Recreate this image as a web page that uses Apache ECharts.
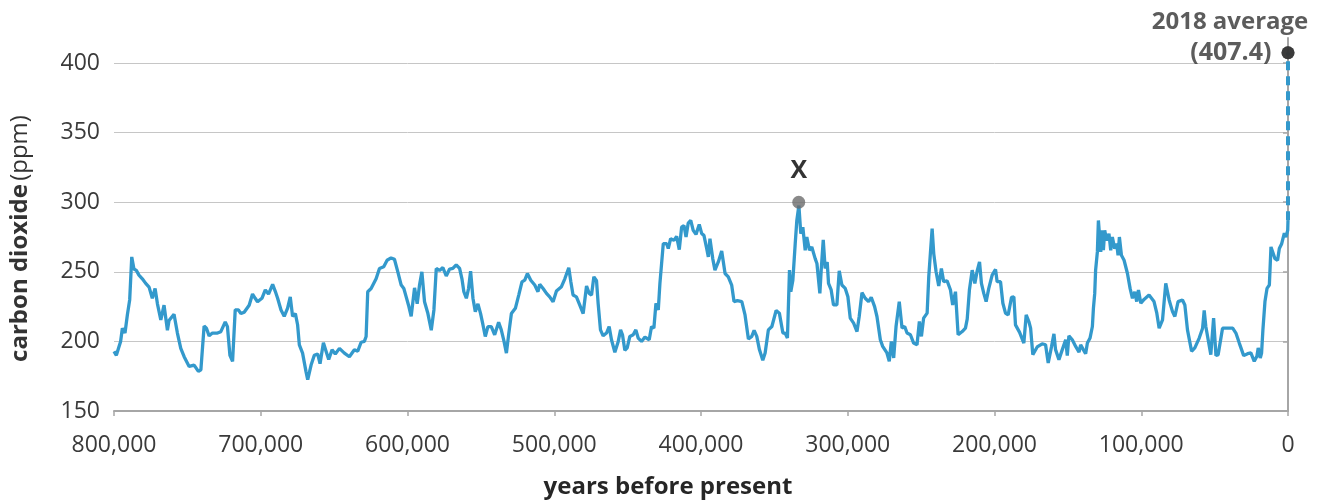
<!DOCTYPE html>
<html><head><meta charset="utf-8">
<script src="https://cdn.jsdelivr.net/npm/echarts@6/dist/echarts.min.js"></script>
<style>html,body{margin:0;padding:0;background:#fff;overflow:hidden}#c{width:1322px;height:504px}</style>
</head><body><div id="c"></div>
<script>
// years before present (ice-core record)
const years = [
800000,798400,795500,794300,792500,790900,789300,787900,786400,784800,783000,780700,778400,776100,773900,772000,770400,768100,765900,763600,762500,759100,756800,754500,752200,748800,745400,742500,740800,738600,737000,735200,732900,729500,727200,724200,722700,721000,719200,717400,715200,713500,711300,707900,705600,703800,702200,699200,696900,694700,691900,690100,688500,686200,684000,681700,679900,678300,676400,674900,673700,671500,669200,668000,665700,663500,661200,659600,657300,655500,653700,651400,649200,646400,643000,639600,
636200,633900,631600,629400,628200,627100,624800,621400,619100,616200,613900,611200,608900,606600,604300,602500,600900,599300,597500,595200,593400,591800,590200,588400,586100,583800,582000,580400,578200,575900,573600,571300,569100,566800,564500,562900,561600,559900,558400,557000,555400,553800,552000,550200,548600,547000,545200,542900,540600,537900,536100,534300,532600,531100,529200,526500,524200,522000,520100,518300,516000,513300,511100,509900,507600,505300,503100,500800,498500,495100,492800,490100,488700,487200,484900,482600,480300,
479900,478000,476200,474600,473000,471200,470100,468500,466700,464400,462600,461000,458700,456400,454800,453500,451900,450300,448500,446200,444400,442800,440500,438200,435300,433700,432100,430700,429100,428000,425700,423400,422300,420700,418400,416600,414800,413200,411600,410200,408700,407000,405300,403400,401200,399500,398000,396100,395000,393900,392000,390500,388200,385900,383600,381400,379100,377500,375200,372200,370000,367700,365400,363800,362000,360200,357900,356300,354100,351700,348800,346600,344200,342700,341100,339700,338800,337400,335800,334700,333300,332000,330600,329000,327900,326100,324500,322200,
321000,319900,319000,318100,316700,315400,314000,313100,311300,309700,307400,305800,304000,301700,299900,298300,296000,293700,292200,290300,288100,285800,284000,281700,280100,277800,276200,274900,273300,271700,270300,268700,267100,264900,263000,261200,259600,257300,255100,252800,251200,249800,248300,245900,244800,243700,242500,241400,239800,238000,236200,234600,232300,230000,228500,226600,224800,222000,219800,218600,217100,215200,213400,211800,210200,208900,207300,205700,203900,201600,199300,198200,195900,194300,192500,190700,188400,186800,185700,182900,180000,178400,176600,175400,173900,170900,167500,165200,163400,161100,159500,
158400,156100,153800,151500,150400,149300,147000,144700,142400,141300,139500,137900,136700,134900,133300,132600,131700,131100,129900,129200,128100,127600,126500,125800,124900,123600,122000,120800,119700,118100,116700,115800,114900,113500,111700,109400,107600,106000,104400,103100,101900,100300,98100,94700,91300,89400,87800,85500,83300,81000,78700,77100,74900,71900,70300,68500,65700,63500,60500,58200,57100,56000,54400,52600,50700,49100,47600,44600,41200,37700,35500,33200,30200,27500,25300,23000,21200,20300,18900,18000,17100,15700,14300,12700,11600,10500,8900,7100,5900,4300,2500,1400,200,0
];
// carbon dioxide (ppm)
const co2 = [
192.8,190,200,209.5,206,219,230,260.7,252,251,247.6,245,241.7,239,231,238,227,215.4,226,208,215,219.5,206,195,189,182,183,178.5,179.6,211,209.5,204,206,206,207,214,210.6,190,185.6,222.6,222.6,220,221,226,234,231,228.5,231,237,234,241,236,231,222.6,218,224,232,218,220,212,197.5,191.6,178.5,172.5,183,190,191,184,199,193,187,194,191,195,191.6,189,
194,193,199.4,200,203.5,235.7,238,245,252.4,253.6,258.3,260,259,250,240.5,238,232,226,218,238.5,227,240.5,250,228.5,220,208,222.6,252.4,251,253,247,252,252.4,255,252.4,245,235.7,231,238,250.5,231,221.4,227,220,212,203.5,210.6,210.6,204.7,213.7,208.3,200.4,191.6,204.7,220,223.8,233.3,242.8,244,248.8,244,240.5,235.7,241,238,234.5,232,228.5,236.2,239.3,245,252.9,242.8,233.3,232,226,220,
220.3,239.8,234.5,233.3,246.4,243.6,227.4,208.3,204,206,210.7,201.2,192.2,200,208.3,204.8,193.6,195.3,203.6,204.8,208.3,202.4,200,203.1,201.2,210.7,209.5,227.4,222.6,241.7,270.2,270.2,266.7,273.8,272.6,275.5,266,282.1,283.3,275,285,286.9,279.8,276.9,284,277.4,276.2,266.7,260.7,273.8,259.5,251.2,257.1,265,248.8,246.4,240.5,228.6,229.3,228.6,219,201.7,203.6,207.9,203.6,194.1,186.5,191.7,208.3,210.7,222.2,220.3,206,206,202.4,251.2,235.7,244,270.2,286.9,297.6,277.4,282,265.5,275,265.5,267.8,259.5,
256,257,234.5,251,273,252.4,257,241.7,237,226.2,226.2,250.7,240.5,238.1,232.1,216.7,213.1,207.1,217.9,235,231,228.6,231.7,225,217.9,201.2,196.4,197.6,191.7,185.7,200,188.1,210.7,228.6,209.5,210.7,206,204.8,198.8,197.6,214.3,203.6,216.7,220.3,246.4,263.1,281,263.1,250,239.8,252.4,242.9,243.6,236.9,226.2,235.7,204.8,207.1,209.5,216,236.9,251.2,241.7,250.7,257.1,241.7,234.5,228.6,238.1,247.6,251.7,242.9,242.9,227.4,220.3,219,231.7,232.1,211.9,206.5,198.8,219,214.3,209.5,190.5,196,198.3,197.6,184.5,196.4,205.4,
194.1,186.9,194.1,201.2,189.8,204,201.2,196.4,192.2,197.6,194.1,191.2,198.8,202.4,210.7,223.8,234.5,251.2,264.3,286.9,288.1,264.3,279.8,265.5,279.8,272.6,277.4,265.5,275,266.7,270.2,261.9,275,261.9,258.3,248.8,238.1,231,235.7,228.6,236.9,227.4,230.2,233.3,228.6,220.3,209.5,215.5,241.7,229.8,221.4,217.9,228.6,229.8,226.2,208.3,192.9,195.3,202.4,209.5,222.2,210.7,201.2,190.5,216.7,189.8,190.5,209.5,209.5,209.5,206,198.8,189.8,191.2,191.7,185.7,189.3,195.3,188.1,191.7,208.3,228.6,238.1,240.5,267.9,266.7,259.5,258.3,266.7,270.2,277.8,275,279.8,287
];
const yTicks = [150, 200, 250, 300, 350, 400];
const xTickStep = 100000;
const markerPoint = [333400, 300];   // point "X"
const avg2018 = [0, 407.4];          // 2018 average
const avgLabel = '(407.4)';
const avgTitle = '2018 average';

const lineData = years.map((y, i) => [y, co2[i]]);
const lastPoint = [years[years.length - 1], co2[co2.length - 1]];

const FONT = 'Open Sans';
const BLUE = '#3399cc';
const chart = echarts.init(document.getElementById('c'));
chart.setOption({
  animation: false,
  grid: { left: 114, right: 34, top: 38, bottom: 91, containLabel: false },
  xAxis: {
    type: 'value', min: 0, max: 800000, interval: xTickStep, inverse: true,
    axisLine: { show: true, lineStyle: { color: '#a6a6a6', width: 2 } },
    axisTick: { show: true, length: 5, lineStyle: { color: '#a6a6a6', width: 1.5 } },
    splitLine: { show: false },
    axisLabel: { color: '#3a3a3a', fontSize: 23, fontFamily: FONT, margin: 23,
      formatter: v => v.toLocaleString('en-US') },
    name: 'years before present', nameLocation: 'middle', nameGap: 64,
    nameTextStyle: { fontWeight: 'bold', fontSize: 24, color: '#262626', fontFamily: FONT, padding: [0, 66, 0, 0] }
  },
  yAxis: {
    type: 'value', min: 150, max: 418,
    axisLine: { show: true, lineStyle: { color: '#a6a6a6', width: 2 } },
    axisTick: { show: true, length: 5, customValues: yTicks, lineStyle: { color: '#a6a6a6', width: 1.5 } },
    axisLabel: { customValues: yTicks, color: '#3a3a3a', fontSize: 23, fontFamily: FONT, margin: 14 },
    splitLine: { show: true, lineStyle: { color: '#c6c6c6', width: 1 } },
    name: '{b|carbon dioxide} {n|(ppm)}', nameLocation: 'middle', nameGap: 82, nameRotate: 90,
    nameTextStyle: { padding: [0, 28, 0, 0],
      rich: { b: { fontWeight: 'bold', fontSize: 24, color: '#333', fontFamily: FONT },
              n: { fontSize: 24, color: '#333', fontFamily: FONT } } }
  },
  series: [
    { type: 'line', data: lineData, showSymbol: false, symbol: 'none', clip: false,
      lineStyle: { color: BLUE, width: 3.3 }, z: 3 },
    { type: 'scatter', data: [markerPoint], symbolSize: 13, itemStyle: { color: '#6b6b6b' }, z: 4,
      label: { show: true, position: 'top', distance: 12, formatter: 'X', color: '#000',
        fontSize: 25, fontWeight: 'bold', fontFamily: FONT } },
    { type: 'scatter', data: [avg2018], symbolSize: 13, itemStyle: { color: '#333' }, z: 6, clip: false,
      label: { show: true, position: 'left', distance: 10, formatter: avgLabel, color: '#333',
        fontSize: 25, fontWeight: 'bold', fontFamily: FONT } },
    { type: 'scatter', data: [avg2018], symbolSize: 13, itemStyle: { color: '#333' }, z: 6, clip: false,
      label: { show: true, position: 'top', distance: 12, offset: [-58, 0], formatter: avgTitle, color: '#333',
        fontSize: 24, fontWeight: 'bold', fontFamily: FONT } }
  ]
});
// dashed connector from the last ice-core value up to the 2018 average, placed with the chart's own scales
const p1 = chart.convertToPixel({ gridIndex: 0 }, lastPoint);
const p2 = chart.convertToPixel({ gridIndex: 0 }, avg2018);
chart.setOption({
  graphic: [{ type: 'line', z: 5, silent: true,
    shape: { x1: p1[0], y1: p1[1], x2: p2[0], y2: p2[1] },
    style: { stroke: BLUE, lineWidth: 4, lineDash: [9, 6], lineCap: 'butt', fill: null } }]
});
</script></body></html>
